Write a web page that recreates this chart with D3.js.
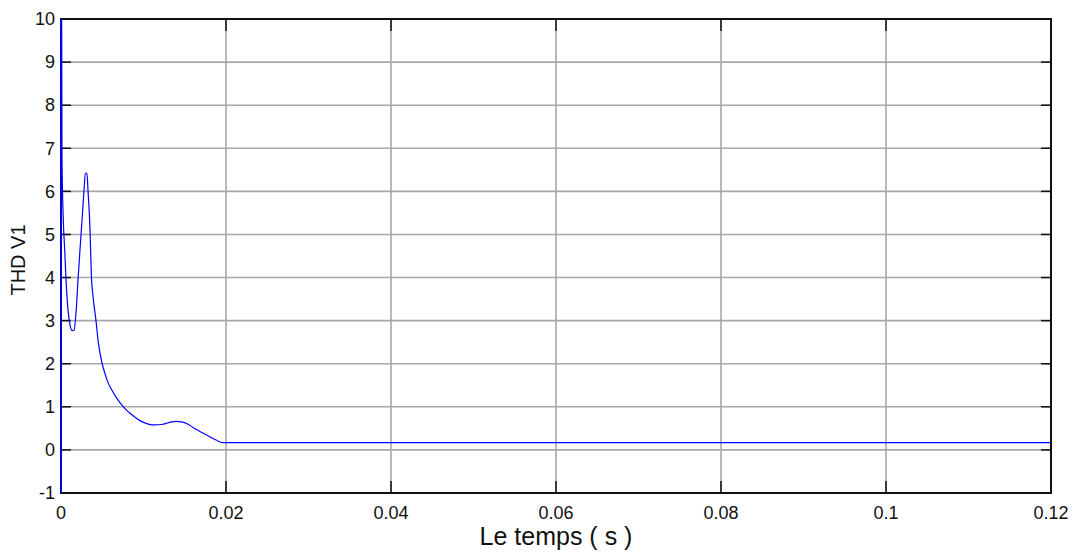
<!DOCTYPE html>
<html>
<head>
<meta charset="utf-8">
<script src="https://cdn.jsdelivr.net/npm/d3@7"></script>
<style>
  html, body { margin: 0; padding: 0; background: #fff; }
  svg { display: block; font-family: "Liberation Sans", Arial, sans-serif; }
</style>
</head>
<body>
<svg id="chart" width="1075" height="560"></svg>
<script>
// THD of V1 over time (s)
const timeS = [0, 0, 0.00008, 0.00012, 0.00028, 0.00045, 0.00061, 0.00085, 0.00109, 0.00133, 0.00158,
  0.00182, 0.00206, 0.0023, 0.00255, 0.00279, 0.00295, 0.00315, 0.00327, 0.00352, 0.00367,
  0.00392, 0.00424, 0.00452, 0.00493, 0.00533, 0.00573, 0.00625, 0.00675, 0.00726, 0.00776,
  0.00836, 0.00897, 0.00958, 0.01058, 0.0114, 0.0122, 0.0132, 0.01398, 0.0146, 0.01535,
  0.016, 0.0176, 0.0188, 0.0196, 0.02, 0.12];
const thdV1 = [-1, 10, 10, 6.8, 5.33, 4.64, 3.94, 3.25, 2.9, 2.77, 2.78,
  3.18, 3.94, 4.64, 5.33, 6.03, 6.42, 6.42, 6.03, 5.1, 4.1,
  3.5, 3.0, 2.5, 2.05, 1.77, 1.55, 1.36, 1.2, 1.07, 0.96,
  0.85, 0.76, 0.68, 0.6, 0.58, 0.59, 0.64, 0.66, 0.65, 0.6,
  0.52, 0.35, 0.23, 0.17, 0.17, 0.17];

const xTicks = [0, 0.02, 0.04, 0.06, 0.08, 0.1, 0.12];
const xTickLabels = ["0", "0.02", "0.04", "0.06", "0.08", "0.1", "0.12"];
const yTicks = [-1, 0, 1, 2, 3, 4, 5, 6, 7, 8, 9, 10];
const yTickLabels = ["-1", "0", "1", "2", "3", "4", "5", "6", "7", "8", "9", "10"];
const xLabel = "Le temps ( s )";
const yLabel = "THD V1";

const margin = { left: 61, top: 19, right: 24, bottom: 67 };
const W = 1075, H = 560;
const pw = W - margin.left - margin.right;
const ph = H - margin.top - margin.bottom;

const svg = d3.select("#chart");
const g = svg.append("g").attr("transform", `translate(${margin.left},${margin.top})`);

const x = d3.scaleLinear().domain([0, 0.12]).range([0, pw]);
const y = d3.scaleLinear().domain([-1, 10]).range([ph, 0]);

// grid
g.append("g").selectAll("line").data(xTicks.slice(1, -1)).join("line")
  .attr("x1", d => x(d)).attr("x2", d => x(d)).attr("y1", 0).attr("y2", ph)
  .attr("stroke", "#a8a8a8").attr("stroke-width", 1.6);
g.append("g").selectAll("line").data(yTicks.slice(1, -1)).join("line")
  .attr("y1", d => y(d)).attr("y2", d => y(d)).attr("x1", 0).attr("x2", pw)
  .attr("stroke", "#a8a8a8").attr("stroke-width", 1.6);

// inward ticks on all four sides
const tickColor = "#111";
g.append("g").selectAll("line").data(xTicks).join("line")
  .attr("x1", d => x(d)).attr("x2", d => x(d)).attr("y1", ph).attr("y2", ph - 12)
  .attr("stroke", tickColor).attr("stroke-width", 1.5);
g.append("g").selectAll("line").data(xTicks).join("line")
  .attr("x1", d => x(d)).attr("x2", d => x(d)).attr("y1", 0).attr("y2", 12)
  .attr("stroke", tickColor).attr("stroke-width", 1.5);
g.append("g").selectAll("line").data(yTicks).join("line")
  .attr("y1", d => y(d)).attr("y2", d => y(d)).attr("x1", 0).attr("x2", 10)
  .attr("stroke", tickColor).attr("stroke-width", 1.5);
g.append("g").selectAll("line").data(yTicks).join("line")
  .attr("y1", d => y(d)).attr("y2", d => y(d)).attr("x1", pw).attr("x2", pw - 10)
  .attr("stroke", tickColor).attr("stroke-width", 1.5);

// frame
g.append("rect").attr("x", 0).attr("y", 0).attr("width", pw).attr("height", ph)
  .attr("fill", "none").attr("stroke", "#111").attr("stroke-width", 2);

// tick labels
g.append("g").selectAll("text").data(xTicks).join("text")
  .attr("x", d => x(d)).attr("y", ph + 26)
  .attr("text-anchor", "middle").attr("font-size", 18).attr("fill", "#111")
  .text((d, i) => xTickLabels[i]);
g.append("g").selectAll("text").data(yTicks).join("text")
  .attr("x", -6).attr("y", d => y(d)).attr("dy", "0.35em")
  .attr("text-anchor", "end").attr("font-size", 18).attr("fill", "#111")
  .text((d, i) => yTickLabels[i]);

// axis titles
svg.append("text").attr("x", margin.left + pw / 2 + 0).attr("y", 545)
  .attr("text-anchor", "middle").attr("font-size", 25).attr("fill", "#111")
  .text(xLabel);
svg.append("text").attr("transform", "translate(25,260) rotate(-90)")
  .attr("text-anchor", "middle").attr("font-size", 20).attr("fill", "#111")
  .text(yLabel);

// curve: initial jump at t = 0 drawn straight, the rest smoothed
g.append("clipPath").attr("id", "clip").append("rect")
  .attr("x", -2).attr("y", 0).attr("width", pw + 2).attr("height", ph);
const pts = timeS.map((t, i) => [t, thdV1[i]]);
const curve = g.append("g").attr("clip-path", "url(#clip)");
curve.append("path").datum(pts.slice(0, 2))
  .attr("fill", "none").attr("stroke", "#0000ff").attr("stroke-width", 1.6)
  .attr("d", d3.line().x(d => x(d[0])).y(d => y(d[1])));
curve.append("path").datum(pts.slice(1))
  .attr("fill", "none").attr("stroke", "#0000ff").attr("stroke-width", 1.2)
  .attr("d", d3.line().curve(d3.curveMonotoneX).x(d => x(d[0])).y(d => y(d[1])));
</script>
</body>
</html>
